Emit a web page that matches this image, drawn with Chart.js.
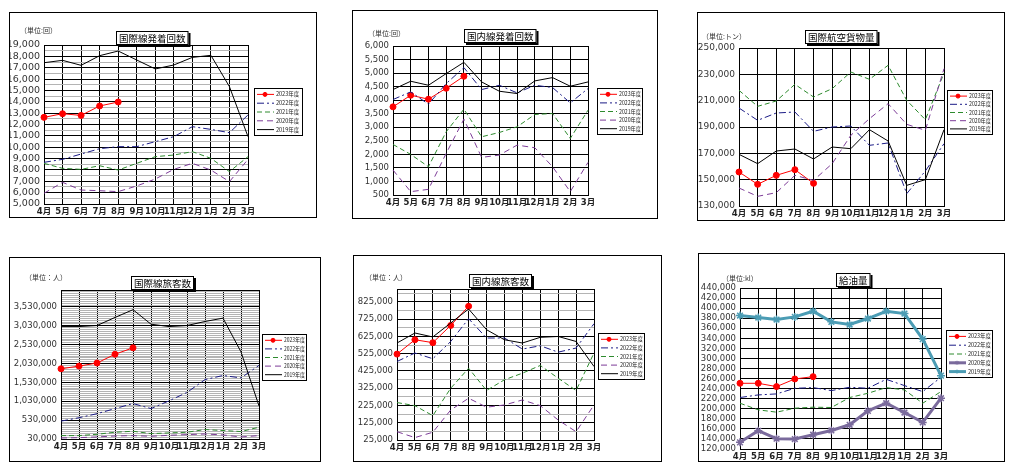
<!DOCTYPE html>
<html lang="ja">
<head>
<meta charset="utf-8">
<title>航空統計</title>
<script src="https://cdn.jsdelivr.net/npm/chart.js@4.4.1/dist/chart.umd.min.js"></script>
<style>
  html, body { margin: 0; padding: 0; background: #fff; }
  body { width: 1016px; height: 472px; position: relative; overflow: hidden; }
  .panel { position: absolute; }
</style>
</head>
<body>
<script>
// === 1. DATA ===
const months = ['4月', '5月', '6月', '7月', '8月', '9月', '10月', '11月', '12月', '1月', '2月', '3月'];
const seriesNames = ['2023年度', '2022年度', '2021年度', '2020年度', '2019年度'];

// 国際線発着回数 (回)
const intlFlightTicks = [5000, 6000, 7000, 8000, 9000, 10000, 11000, 12000, 13000, 14000, 15000, 16000, 17000, 18000, 19000];
const intlFlights2023 = [12630, 12950, 12800, 13630, 13980];
const intlFlights2022 = [8670, 8930, 9400, 9870, 10050, 10050, 10490, 10930, 11810, 11570, 11280, 12840];
const intlFlights2021 = [8580, 8140, 8050, 8370, 7990, 8580, 9170, 9310, 9610, 9020, 7850, 9170];
const intlFlights2020 = [5940, 6910, 6230, 6170, 6090, 6590, 7200, 8050, 8580, 7990, 6970, 8930];
const intlFlights2019 = [17440, 17650, 17210, 18060, 18470, 17680, 16890, 17240, 17910, 18090, 15330, 10930];

// 国内線発着回数 (回)
const domFlightTicks = [500, 1000, 1500, 2000, 2500, 3000, 3500, 4000, 4500, 5000, 5500, 6000];
const domFlights2023 = [3754, 4183, 4036, 4441, 4883];
const domFlights2022 = [4024, 4306, 3852, 4613, 5202, 4392, 4551, 4269, 4551, 4466, 3901, 4429];
const domFlights2021 = [2366, 1998, 1544, 2833, 3668, 2649, 2808, 3017, 3471, 3508, 2588, 3631];
const domFlights2020 = [1421, 623, 709, 2035, 3299, 1888, 1974, 2342, 2244, 1544, 623, 1703];
const domFlights2019 = [4392, 4699, 4551, 4981, 5398, 4674, 4330, 4245, 4711, 4834, 4515, 4674];

// 国際航空貨物量 (トン)
const cargoTicks = [130000, 150000, 170000, 190000, 210000, 230000, 250000];
const cargo2023 = [155820, 146460, 153290, 157590, 147210];
const cargo2022 = [204430, 195060, 200630, 201390, 186710, 190000, 190760, 176080, 177850, 139370, 156580, 177340];
const cargo2021 = [217850, 205700, 209750, 222410, 212780, 219110, 231770, 226200, 236840, 210250, 195570, 231010];
const cargo2020 = [143670, 137340, 140130, 153290, 149490, 162150, 183670, 196330, 207720, 192030, 187470, 234300];
const cargo2019 = [169240, 162150, 171770, 173290, 165700, 174810, 173540, 187970, 179370, 145700, 150000, 187970];

// 国際線旅客数 (人)
const intlPaxTicks = [30000, 530000, 1030000, 1530000, 2030000, 2530000, 3030000, 3530000];
const intlPax2023 = [1891800, 1963000, 2044000, 2277000, 2447000];
const intlPax2022 = [504000, 594000, 701000, 836000, 970000, 836000, 1041000, 1265000, 1605000, 1713000, 1650000, 1981000];
const intlPax2021 = [120000, 120000, 155000, 209000, 236000, 173000, 191000, 209000, 281000, 254000, 227000, 343000];
const intlPax2020 = [57000, 66000, 84000, 111000, 120000, 102000, 128000, 146000, 164000, 137000, 84000, 120000];
const intlPax2019 = [3011000, 3011000, 3038000, 3252000, 3458000, 3073000, 3011000, 3038000, 3145000, 3234000, 2339000, 907000];

// 国内線旅客数 (人)
const domPaxTicks = [25000, 125000, 225000, 325000, 425000, 525000, 625000, 725000, 825000];
const domPax2023 = [522800, 606000, 589000, 689000, 800000];
const domPax2022 = [480000, 529000, 496000, 596000, 728000, 616000, 616000, 552000, 571000, 534000, 558000, 699000];
const domPax2021 = [242000, 224000, 166000, 325000, 441000, 312000, 374000, 412000, 457000, 383000, 312000, 529000];
const domPax2020 = [73000, 39000, 70000, 199000, 267000, 215000, 228000, 257000, 224000, 141000, 73000, 228000];
const domPax2019 = [587000, 645000, 622000, 703000, 784000, 664000, 606000, 587000, 620000, 625000, 596000, 451000];

// 給油量 (kl)
const fuelTicks = [120000, 140000, 160000, 180000, 200000, 220000, 240000, 260000, 280000, 300000, 320000, 340000, 360000, 380000, 400000, 420000, 440000];
const fuel2023 = [250600, 250600, 244000, 259200, 263800];
const fuel2022 = [222300, 227500, 229500, 240700, 242000, 236100, 242700, 240700, 258500, 246000, 234100, 262500];
const fuel2021 = [211000, 197800, 193200, 201100, 203100, 202500, 222300, 230800, 242000, 237400, 211000, 234100];
const fuel2020 = [133200, 156300, 140400, 139800, 148400, 156900, 168100, 195800, 211000, 192500, 172800, 221000];
const fuel2019 = [385200, 381300, 377300, 382600, 393800, 372700, 367400, 379300, 393800, 389200, 338400, 265800];

// === 2. LINE STYLES (one per fiscal year) ===
const LINE_STYLES = [
    { borderColor: '#ff0000', borderWidth: 1, borderDash: [], pointRadius: 3, pointStyle: 'circle' },
    { borderColor: '#1b1b86', borderWidth: 1, borderDash: [7, 3, 2, 3], pointRadius: 0 },
    { borderColor: '#2e8b2e', borderWidth: 1, borderDash: [5, 3], pointRadius: 0 },
    { borderColor: '#7d3c98', borderWidth: 1, borderDash: [6, 4], pointRadius: 0 },
    { borderColor: '#000000', borderWidth: 1, borderDash: [], pointRadius: 0 }
];
// the fuel chart draws its two older years heavier, with star markers
const FUEL_STYLES = [
    LINE_STYLES[0], LINE_STYLES[1], LINE_STYLES[2],
    { borderColor: '#7a6a9c', borderWidth: 3, borderDash: [], pointRadius: 4, pointStyle: 'star' },
    { borderColor: '#4b9cb4', borderWidth: 3, borderDash: [], pointRadius: 4, pointStyle: 'star' }
];

// === 3. PANEL LAYOUT (page pixels) ===
const PANELS = [
    { title: '国際線発着回数', unit: '（単位:回）', series: [intlFlights2023, intlFlights2022, intlFlights2021, intlFlights2020, intlFlights2019],
      ticks: intlFlightTicks, min: 5000, max: 19000, minor: 500, styles: LINE_STYLES, font: 9.5,
      box: [9, 12, 317, 218], plot: [44, 45, 248, 204], legend: [254, 88, 303, 136], titleAt: [152, 38], unitAt: [20, 30] },
    { title: '国内線発着回数', unit: '（単位:回）', series: [domFlights2023, domFlights2022, domFlights2021, domFlights2020, domFlights2019],
      ticks: domFlightTicks, min: 500, max: 6000, minor: 500, styles: LINE_STYLES, font: 8.5,
      box: [352, 10, 658, 219], plot: [393, 46, 588, 195], legend: [597, 88, 643, 135], titleAt: [500, 36], unitAt: [368, 33] },
    { title: '国際航空貨物量', unit: '（単位:トン）', series: [cargo2023, cargo2022, cargo2021, cargo2020, cargo2019],
      ticks: cargoTicks, min: 130000, max: 250000, minor: 20000, styles: LINE_STYLES, font: 9,
      box: [697, 12, 1005, 221], plot: [739, 48, 944, 206], legend: [947, 90, 993, 135], titleAt: [841, 37], unitAt: [702, 36] },
    { title: '国際線旅客数', unit: '（単位：人）', series: [intlPax2023, intlPax2022, intlPax2021, intlPax2020, intlPax2019],
      ticks: intlPaxTicks, min: 30000, max: 3980000, minor: 50000, styles: LINE_STYLES, font: 8.5,
      box: [9, 257, 321, 462], plot: [61, 290, 259, 439], legend: [262, 334, 307, 381], titleAt: [163, 283], unitAt: [25, 277] },
    { title: '国内線旅客数', unit: '（単位：人）', series: [domPax2023, domPax2022, domPax2021, domPax2020, domPax2019],
      ticks: domPaxTicks, min: 25000, max: 900000, minor: 50000, styles: LINE_STYLES, font: 8.5,
      box: [353, 255, 662, 462], plot: [397, 289, 594, 440], legend: [598, 333, 645, 380], titleAt: [501, 281], unitAt: [365, 277] },
    { title: '給油量', unit: '（単位:kl）', series: [fuel2023, fuel2022, fuel2021, fuel2020, fuel2019],
      ticks: fuelTicks, min: 120000, max: 440000, minor: 20000, styles: FUEL_STYLES, font: 8.5,
      box: [698, 253, 1005, 462], plot: [740, 288, 941, 449], legend: [946, 330, 993, 378], titleAt: [853, 280], unitAt: [722, 278] }
];

const FONT = '"DejaVu Sans", "Noto Sans CJK JP", sans-serif';
const JP_FONT = '"Noto Sans CJK JP", sans-serif';

// === 4. DECORATION PLUGIN (frame, title box, unit, legend) ===
const panelDecor = {
    id: 'panelDecor',
    beforeDatasetsDraw(chart) {
        const a = chart.chartArea, ctx = chart.ctx;
        ctx.save();
        ctx.strokeStyle = '#000';
        ctx.lineWidth = 1;
        ctx.strokeRect(Math.round(a.left) + 0.5, Math.round(a.top) + 0.5, Math.round(a.right - a.left), Math.round(a.bottom - a.top));
        ctx.restore();
    },
    afterDraw(chart, args, opts) {
        const ctx = chart.ctx, p = opts.panel;
        const ox = p.box[0], oy = p.box[1];
        ctx.save();

        // outer box
        ctx.strokeStyle = '#000';
        ctx.lineWidth = 1;
        ctx.strokeRect(0.5, 0.5, chart.width - 1, chart.height - 1);

        // unit label
        ctx.fillStyle = '#333';
        ctx.font = '7px ' + JP_FONT;
        ctx.textBaseline = 'middle';
        ctx.textAlign = 'left';
        ctx.fillText(p.unit, p.unitAt[0] - ox, p.unitAt[1] - oy);

        // title box with shadow
        ctx.font = '9.5px ' + JP_FONT;
        const tw = ctx.measureText(p.title).width + 6, th = 14;
        const tx = Math.round(p.titleAt[0] - ox - tw / 2), ty = Math.round(p.titleAt[1] - oy - th / 2);
        ctx.fillStyle = '#000';
        ctx.fillRect(tx + 2, ty + 2, tw, th);
        ctx.fillStyle = '#fff';
        ctx.fillRect(tx, ty, tw, th);
        ctx.strokeRect(tx + 0.5, ty + 0.5, tw - 1, th - 1);
        ctx.fillStyle = '#000';
        ctx.textAlign = 'center';
        ctx.fillText(p.title, tx + tw / 2, ty + th / 2 + 0.5);

        // legend
        const [ll, lt, lr, lb] = p.legend;
        const L = ll - ox, T = lt - oy, W = lr - ll, H = lb - lt;
        ctx.fillStyle = '#fff';
        ctx.fillRect(L, T, W, H);
        ctx.lineWidth = 1;
        ctx.strokeStyle = '#000';
        ctx.strokeRect(L + 0.5, T + 0.5, W - 1, H - 1);
        const rows = chart.data.datasets.length, rowH = (H - 4) / rows;
        chart.data.datasets.forEach((ds, i) => {
            const y = T + 2 + rowH * (i + 0.5);
            ctx.strokeStyle = ds.borderColor;
            ctx.lineWidth = ds.borderWidth;
            ctx.setLineDash(ds.borderDash || []);
            ctx.beginPath();
            ctx.moveTo(L + 3, y);
            ctx.lineTo(L + 20, y);
            ctx.stroke();
            ctx.setLineDash([]);
            if (ds.pointRadius > 0) {
                ctx.fillStyle = ds.borderColor;
                ctx.lineWidth = 1;
                Chart.helpers.drawPoint(ctx, { pointStyle: ds.pointStyle, radius: 2, borderWidth: 1, rotation: 0 }, L + 11, y);
            }
            ctx.fillStyle = '#222';
            ctx.font = '5.5px ' + JP_FONT;
            ctx.textAlign = 'left';
            ctx.fillText(ds.label, L + 22, y, W - 24);
        });
        ctx.restore();
    }
};

// === 5. BUILD CHARTS ===
PANELS.forEach(p => {
    const [bl, bt, br, bb] = p.box;
    const [pl, pt, pr, pb] = p.plot;
    const holder = document.createElement('div');
    holder.className = 'panel';
    holder.style.left = bl + 'px';
    holder.style.top = bt + 'px';
    const canvas = document.createElement('canvas');
    canvas.width = br - bl;
    canvas.height = bb - bt;
    canvas.style.width = (br - bl) + 'px';
    canvas.style.height = (bb - bt) + 'px';
    holder.appendChild(canvas);
    document.body.appendChild(holder);

    const datasets = p.series.map((values, i) => {
        const s = p.styles[i];
        return {
            label: seriesNames[i],
            data: values,
            borderColor: s.borderColor,
            backgroundColor: s.borderColor,
            borderWidth: s.borderWidth,
            borderDash: s.borderDash,
            pointRadius: s.pointRadius,
            pointStyle: s.pointStyle || 'circle',
            pointBorderWidth: s.pointStyle === 'star' ? 1.5 : 1,
            pointBorderColor: s.borderColor,
            pointBackgroundColor: s.borderColor,
            tension: 0,
            fill: false,
            clip: false,
            order: 5 - i
        };
    });

    new Chart(canvas, {
        type: 'line',
        data: { labels: months, datasets },
        options: {
            responsive: false,
            animation: false,
            events: [],
            layout: { padding: { left: 0, top: pt - bt, right: br - pr, bottom: 0 } },
            plugins: {
                legend: { display: false },
                title: { display: false },
                tooltip: { enabled: false },
                panelDecor: { panel: p }
            },
            scales: {
                x: {
                    offset: false,
                    afterFit: s => { s.height = bb - pb; },
                    ticks: { autoSkip: false, maxRotation: 0, padding: 3, color: '#222',
                             font: { family: FONT, size: 8.5, weight: 'bold' } },
                    grid: { drawTicks: false, color: '#000', lineWidth: 1 },
                    border: { display: false }
                },
                y: {
                    min: p.min,
                    max: p.max,
                    afterBuildTicks: s => {
                        const t = [];
                        for (let v = p.min; v <= p.max; v += p.minor) t.push({ value: v });
                        s.ticks = t;
                    },
                    afterFit: s => { s.width = pl - bl; },
                    ticks: { autoSkip: false, padding: 4, color: '#333',
                             font: { family: FONT, size: p.font },
                             callback: v => p.ticks.includes(v) ? v.toLocaleString('en-US') : '' },
                    grid: { drawTicks: false, lineWidth: 1,
                            color: c => p.ticks.includes(c.tick.value) ? '#000' : '#b4b4b4' },
                    border: { display: false }
                }
            }
        },
        plugins: [panelDecor]
    });
});
</script>
</body>
</html>
